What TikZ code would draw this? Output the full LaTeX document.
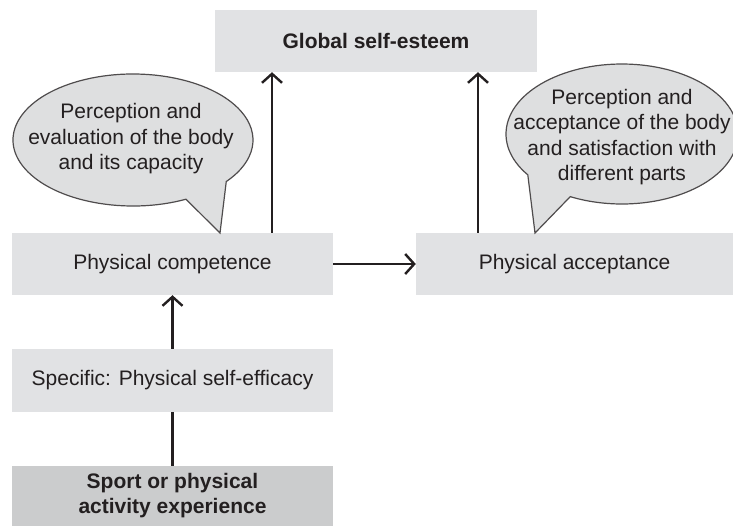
\documentclass[tikz,border=0pt]{standalone}
\usepackage{fontspec}
\setmainfont{Liberation Sans}
\usetikzlibrary{arrows.meta}
\definecolor{boxgray}{HTML}{E1E2E4}
\definecolor{darkgray}{HTML}{CBCCCD}
\definecolor{bubgray}{HTML}{DEDFE0}
\definecolor{ink}{HTML}{231F20}
\tikzset{
  box/.style={fill=boxgray, inner sep=0pt, minimum width=321pt, minimum height=62pt, align=center, text=ink, font=\fontsize{21}{25.5}\selectfont},
  darkbox/.style={box, fill=darkgray, font=\fontsize{21}{25}\selectfont\bfseries},
  arr/.style={draw=ink, line width=2.4pt, -{Straight Barb[length=9pt,width=20pt]}},
  plain/.style={draw=ink, line width=2.4pt},
  bubble/.style={fill=bubgray, draw=ink!80, line width=1.2pt},
  bubtext/.style={align=center, text=ink, inner sep=0pt, font=\fontsize{21}{25.5}\selectfont}
}
\begin{document}
\begin{tikzpicture}[x=1pt,y=-1pt]
\useasboundingbox (0,0) rectangle (733,525);
% boxes
\node[box, minimum width=322pt, font=\fontsize{21}{25.5}\selectfont\bfseries] (glob) at (376,41) {Global self-esteem};
\node[box] (comp) at (172.5,264) {Physical competence};
\node[box, minimum width=317pt] (acc) at (574.5,264) {Physical acceptance};
\node[box, minimum height=63pt] (spec) at (172.5,380.5) {Specific: Physical self-efficacy};
\node[darkbox, minimum height=60pt] (sport) at (172.5,496) {Sport or physical\\activity experience};
% bubbles
\path[bubble] ({133+120*cos(63.8)},{140+66*sin(63.8)})
  arc[start angle=63.8, end angle=399, x radius=120, y radius=66]
  -- (220,233) -- cycle;
\node[bubtext] (lb) at (131,139) {Perception and\\evaluation of the body\\and its capacity};
\path[bubble] ({622+116*cos(144.3)},{134+70*sin(144.3)})
  arc[start angle=144.3, end angle=476.5, x radius=116, y radius=70]
  -- (535,233) -- cycle;
\node[bubtext] (rb) at (622,137) {Perception and\\acceptance of the body\\and satisfaction with\\different parts};
% connectors
\coordinate (xa) at (272,0);
\coordinate (xb) at (478,0);
\draw[arr] (comp.north -| xa) -- (glob.south -| xa);
\draw[arr] (acc.north -| xb) -- (glob.south -| xb);
\draw[arr] (comp.east) -- (acc.west);
\draw[arr] (spec.north) -- (comp.south);
\draw[plain] (sport.north) -- (spec.south);
\end{tikzpicture}
\end{document}
